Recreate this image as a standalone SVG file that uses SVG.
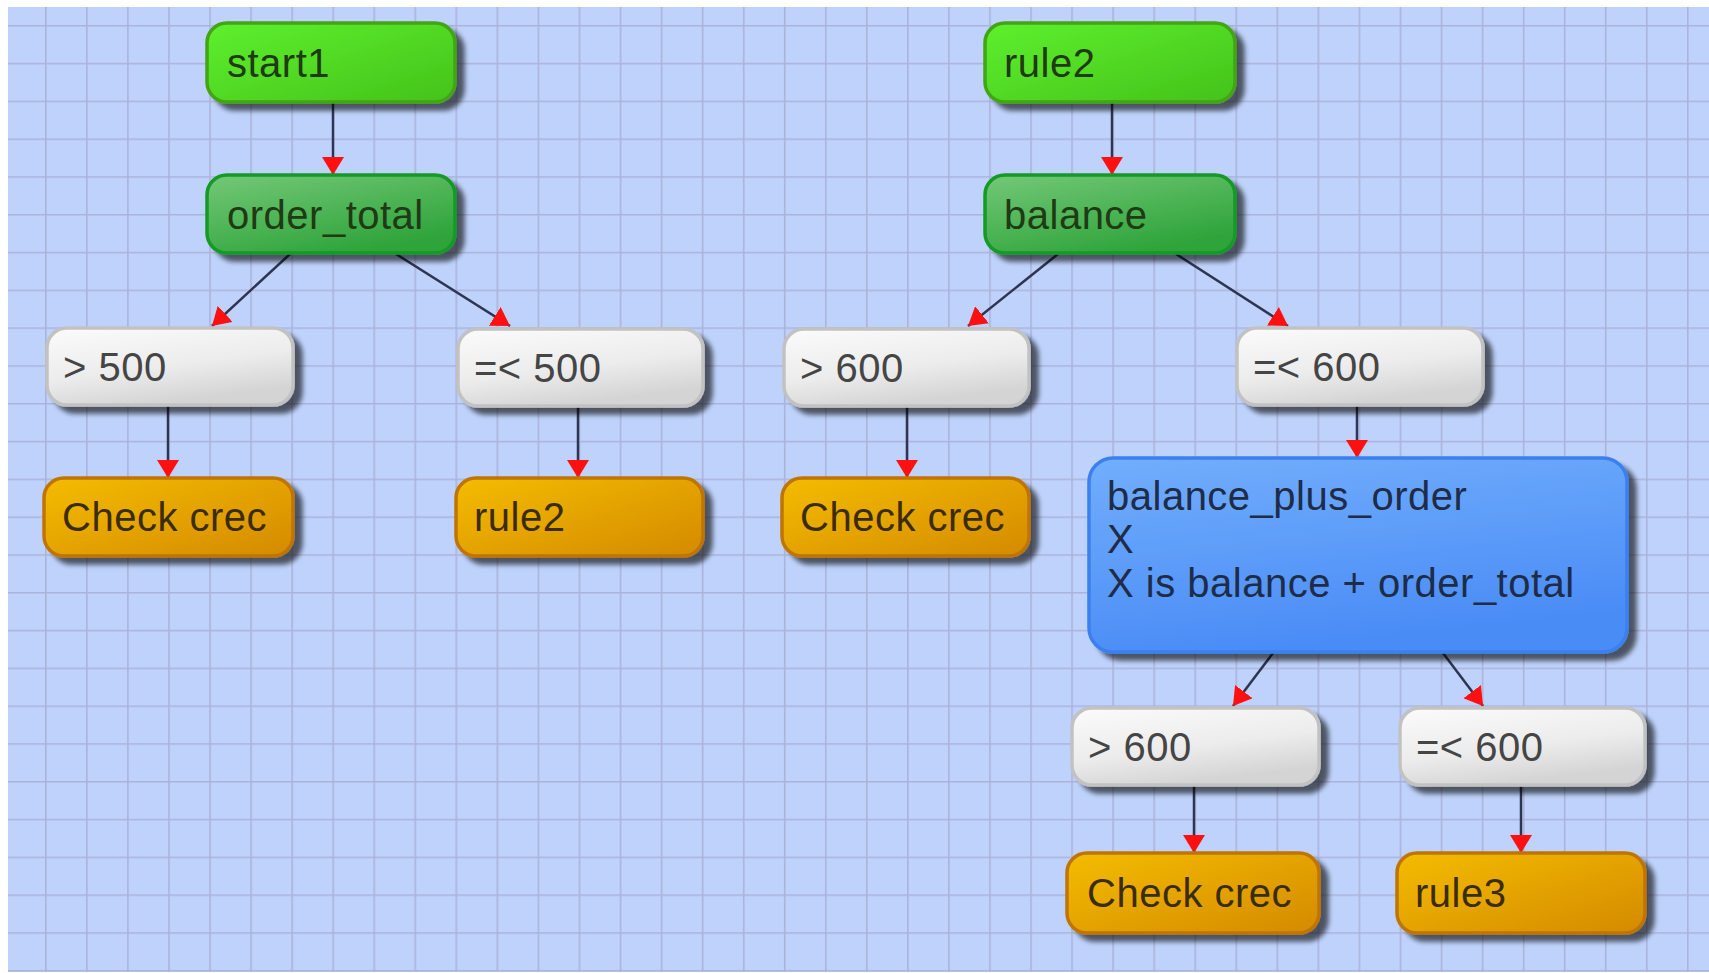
<svg xmlns="http://www.w3.org/2000/svg" width="1709" height="973" viewBox="0 0 1709 973">
<defs>
  <pattern id="grid" x="45" y="25" width="41.05" height="37.8" patternUnits="userSpaceOnUse">
    <rect width="41.05" height="37.8" fill="#bed2fb"/>
    <line x1="0" y1="0" x2="0" y2="37.8" stroke="#acb3db" stroke-width="3.2"/>
    <line x1="0" y1="0" x2="41.05" y2="0" stroke="#acb3db" stroke-width="3.2"/>
  </pattern>
  <filter id="shadow" x="-10%" y="-10%" width="130%" height="140%">
    <feGaussianBlur in="SourceAlpha" stdDeviation="2.5"/>
    <feOffset dx="8" dy="7" result="o"/>
    <feComponentTransfer><feFuncA type="linear" slope="0.6"/></feComponentTransfer>
    <feMerge><feMergeNode/><feMergeNode in="SourceGraphic"/></feMerge>
  </filter>
  <linearGradient id="gLight" x1="0" y1="0" x2="1" y2="1">
    <stop offset="0" stop-color="#5ef02e"/>
    <stop offset="1" stop-color="#44c21a"/>
  </linearGradient>
  <linearGradient id="gDark" x1="0" y1="0" x2="0.6" y2="1">
    <stop offset="0" stop-color="#74c878"/>
    <stop offset="1" stop-color="#2ea43a"/>
  </linearGradient>
  <linearGradient id="gGray" x1="0" y1="0" x2="0.4" y2="1">
    <stop offset="0" stop-color="#fbfbfb"/>
    <stop offset="0.6" stop-color="#ececec"/>
    <stop offset="1" stop-color="#d4d4d4"/>
  </linearGradient>
  <linearGradient id="gOrange" x1="0" y1="0" x2="1" y2="1">
    <stop offset="0" stop-color="#f4bc02"/>
    <stop offset="1" stop-color="#d48a00"/>
  </linearGradient>
  <linearGradient id="gBlue" x1="0" y1="0" x2="0.3" y2="1">
    <stop offset="0" stop-color="#72aefc"/>
    <stop offset="1" stop-color="#4a8cf6"/>
  </linearGradient>
  <marker id="arrow" markerUnits="userSpaceOnUse" markerWidth="20" markerHeight="22" refX="18" refY="11" orient="auto">
    <path d="M0,0 L18,11 L0,22 z" fill="#ff1010"/>
  </marker>
  <style>
    .node rect { filter: url(#shadow); stroke-width: 3.5; }
    .light rect { fill: url(#gLight); stroke: #42a414; }
    .dark rect { fill: url(#gDark); stroke: #129a26; }
    .gray rect { fill: url(#gGray); stroke: #c2c2c2; }
    .orange rect { fill: url(#gOrange); stroke: #c07400; }
    .blue rect { fill: url(#gBlue); stroke: #3a80f0; }
    text { font-family: "Liberation Sans", Arial, sans-serif; font-size: 40px; letter-spacing: 0.5px; fill: #2b2b2b; }
    .green text { fill: #1f3a14; }
    .gray text { fill: #454545; }
    .orange text { fill: #3a2c05; }
    .blue text { fill: #1e2c48; }
    .edges line { stroke: #2e3552; stroke-width: 2.5; marker-end: url(#arrow); }
  </style>
</defs>
<rect x="0" y="0" width="1709" height="973" fill="#ffffff"/>
<rect x="8" y="7" width="1701" height="965" fill="url(#grid)"/>

<g id="edges" class="edges">
  <line x1="333" y1="103" x2="333" y2="175"/>
  <line x1="290" y1="254" x2="212" y2="326"/>
  <line x1="396" y1="254" x2="510" y2="326"/>
  <line x1="168" y1="406" x2="168" y2="478"/>
  <line x1="578" y1="407" x2="578" y2="478"/>
  <line x1="1112" y1="103" x2="1112" y2="175"/>
  <line x1="1058" y1="254" x2="968" y2="326"/>
  <line x1="1176" y1="254" x2="1288" y2="326"/>
  <line x1="907" y1="407" x2="907" y2="478"/>
  <line x1="1357" y1="406" x2="1357" y2="458"/>
  <line x1="1273" y1="653" x2="1233" y2="706"/>
  <line x1="1443" y1="653" x2="1483" y2="706"/>
  <line x1="1194" y1="786" x2="1194" y2="853"/>
  <line x1="1521" y1="786" x2="1521" y2="853"/>
</g>

<g id="start1" class="node light green">
  <rect x="207" y="23" width="248" height="79" rx="20"/>
  <text x="227" y="77">start1</text>
</g>
<g id="order_total" class="node dark green">
  <rect x="207" y="175" width="248" height="78" rx="20"/>
  <text x="227" y="229">order_total</text>
</g>
<g id="gt500" class="node gray">
  <rect x="47" y="328" width="246" height="77" rx="20"/>
  <text x="63" y="381">&gt; 500</text>
</g>
<g id="le500" class="node gray">
  <rect x="458" y="329" width="245" height="77" rx="20"/>
  <text x="474" y="382">=&lt; 500</text>
</g>
<g id="check1" class="node orange">
  <rect x="44" y="478" width="249" height="78" rx="20"/>
  <text x="62" y="531">Check crec</text>
</g>
<g id="rule2a" class="node orange">
  <rect x="456" y="478" width="247" height="78" rx="20"/>
  <text x="474" y="531">rule2</text>
</g>
<g id="rule2b" class="node light green">
  <rect x="985" y="23" width="250" height="79" rx="20"/>
  <text x="1004" y="77">rule2</text>
</g>
<g id="balance" class="node dark green">
  <rect x="985" y="175" width="250" height="78" rx="20"/>
  <text x="1004" y="229">balance</text>
</g>
<g id="gt600a" class="node gray">
  <rect x="784" y="329" width="245" height="77" rx="20"/>
  <text x="800" y="382">&gt; 600</text>
</g>
<g id="le600a" class="node gray">
  <rect x="1237" y="328" width="246" height="77" rx="20"/>
  <text x="1253" y="381">=&lt; 600</text>
</g>
<g id="check2" class="node orange">
  <rect x="782" y="478" width="247" height="78" rx="20"/>
  <text x="800" y="531">Check crec</text>
</g>
<g id="balance_plus_order" class="node blue">
  <rect x="1089" y="458" width="538" height="194" rx="24"/>
  <text x="1107" y="510">balance_plus_order</text>
  <text x="1107" y="553">X</text>
  <text x="1107" y="597">X is balance + order_total</text>
</g>
<g id="gt600b" class="node gray">
  <rect x="1072" y="708" width="247" height="77" rx="20"/>
  <text x="1088" y="761">&gt; 600</text>
</g>
<g id="le600b" class="node gray">
  <rect x="1400" y="708" width="245" height="77" rx="20"/>
  <text x="1416" y="761">=&lt; 600</text>
</g>
<g id="check3" class="node orange">
  <rect x="1067" y="853" width="252" height="80" rx="20"/>
  <text x="1087" y="907">Check crec</text>
</g>
<g id="rule3" class="node orange">
  <rect x="1397" y="853" width="248" height="80" rx="20"/>
  <text x="1415" y="907">rule3</text>
</g>
</svg>
